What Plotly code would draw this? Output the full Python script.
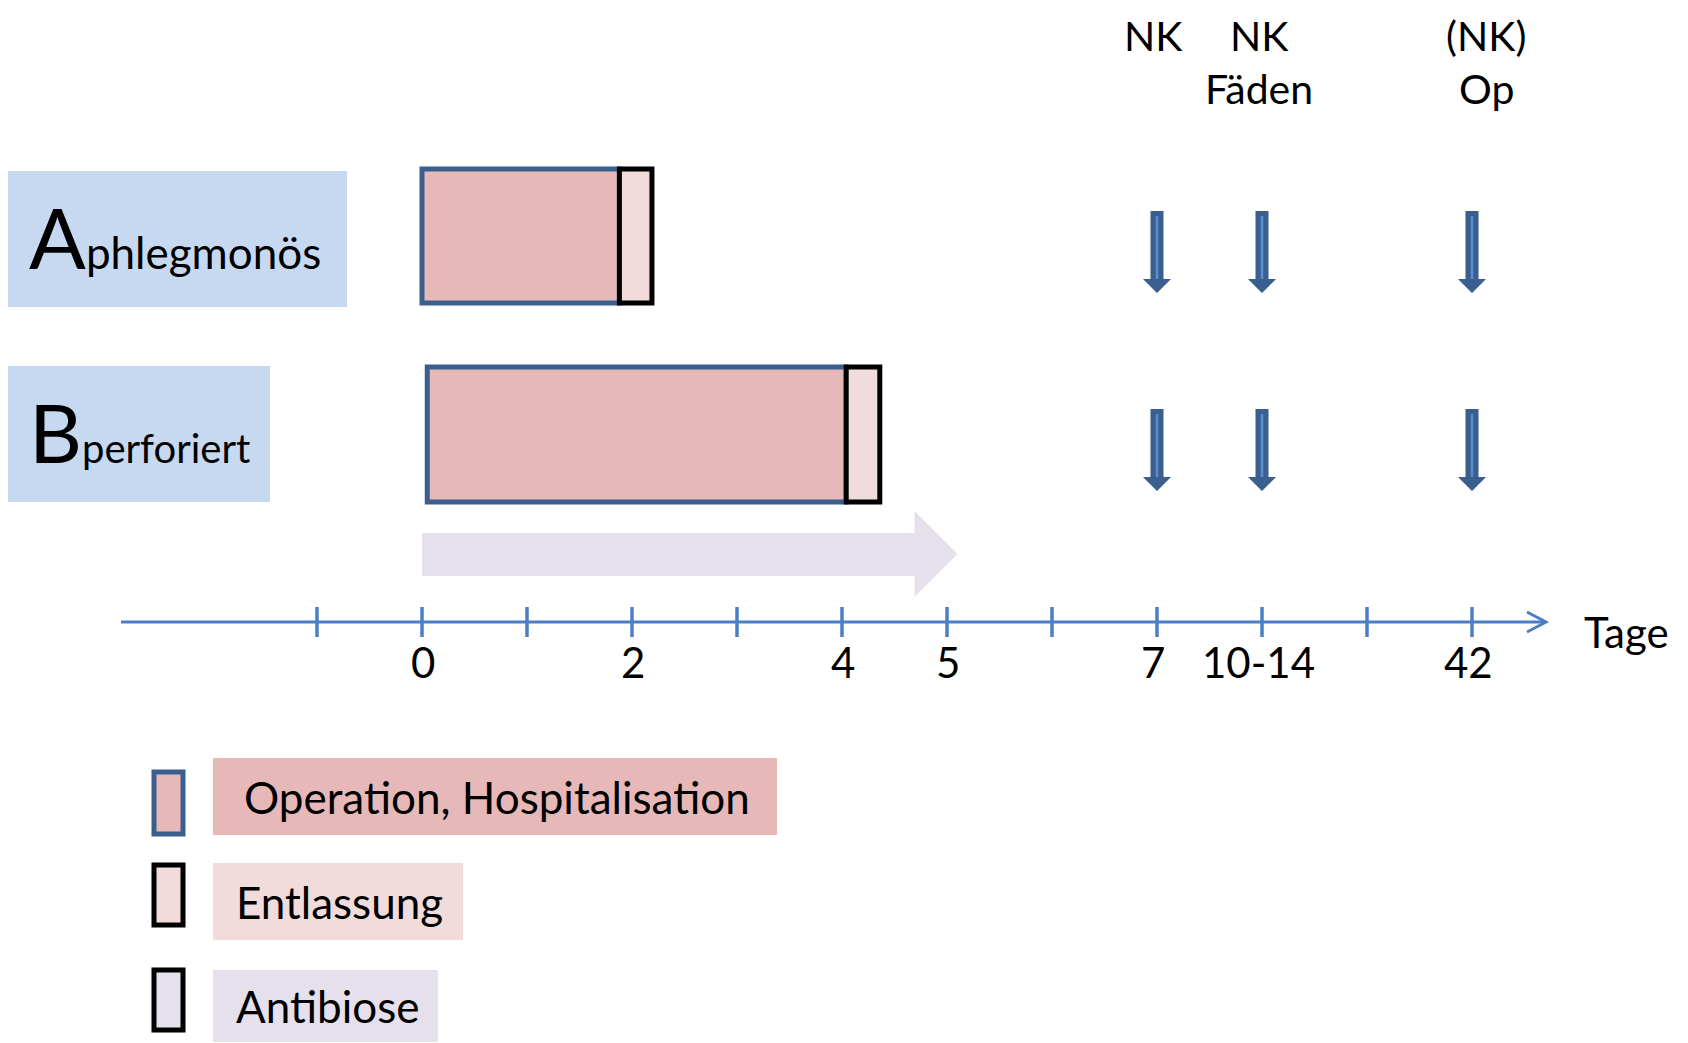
import plotly.graph_objects as go

# ---------------- data ----------------
tick_positions = [-1, 0, 1, 2, 3, 4, 5, 6, 7, 8, 9, 10]
tick_label_pos = [0, 2, 4, 5, 7, 8, 10]
tick_labels = ["0", "2", "4", "5", "7", "10-14", "42"]

groups = ["A", "B"]
group_sub = ["phlegmonös", "perforiert"]
hosp_start = [0.0, 0.05]
hosp_end = [1.88, 4.04]
discharge_end = [2.19, 4.36]

antibiose_start = 0.0
antibiose_end = 5.1

followup_pos = [7, 8, 10]
followup_line1 = ["NK", "NK", "(NK)"]
followup_line2 = ["", "Fäden", "Op"]

legend_labels = ["Operation, Hospitalisation", "Entlassung", "Antibiose"]

# ---------------- style ----------------
OFF = 8                      # page body margin of the browser
W, H = 1680, 1035
FONT = "Lato, 'Open Sans', sans-serif"
C_LABEL = "#c6d9f0"
C_HOSP = "#e6b8b7"
C_DISCH = "#f2dcdb"
C_AB = "#e5e0ec"
C_BORDER = "#3b5f8d"
C_AXIS = "#4a7fc7"
C_ARROW = "#3a5f8f"
C_ARROW_HI = "#5b8dcc"

PX0 = 422.0   # screen pixel of day-index 0
PXU = 105.0   # pixels per unit
xr = [(OFF - PX0) / PXU, (OFF + W - PX0) / PXU]


def px(p):  # screen pixel -> paper fraction (style helper)
    return (p - OFF) / W


def u(p):  # pixel width -> x units (style helper)
    return p / PXU


fig = go.Figure()
shapes = []
ann = []

row_y = [(169, 303), (367, 502)]
label_box = [(8, 347, 171, 307), (8, 270, 366, 502)]
arrow_y = [(211, 293), (409, 491)]
big_size = [84, 82]
sub_size = [44, 40]

for i, g in enumerate(groups):
    x0, x1, y0, y1 = label_box[i]
    shapes.append(dict(type="rect", xref="paper", yref="y", x0=px(x0), x1=px(x1),
                       y0=y0, y1=y1, fillcolor=C_LABEL, line=dict(width=0), layer="below"))
    ann.append(dict(xref="paper", yref="y", x=px(x0 + 19), y=(y0 + y1) / 2 - 3,
                    xanchor="left", yanchor="middle", showarrow=False,
                    text=f"<span style='font-size:{big_size[i]}px'>{g}</span>{group_sub[i]}",
                    font=dict(family=FONT, size=sub_size[i], color="black")))
    ya, yb = row_y[i]
    shapes.append(dict(type="rect", xref="x", yref="y", x0=hosp_start[i], x1=hosp_end[i],
                       y0=ya, y1=yb, fillcolor=C_HOSP, line=dict(color=C_BORDER, width=5)))
    shapes.append(dict(type="rect", xref="x", yref="y", x0=hosp_end[i], x1=discharge_end[i],
                       y0=ya, y1=yb, fillcolor=C_DISCH, line=dict(color="black", width=5)))
    t, b = arrow_y[i]
    for fp in followup_pos:
        sw, hw, hl = u(6.5), u(14), 14
        p = (f"M {fp - sw},{t} L {fp + sw},{t} L {fp + sw},{b - hl} L {fp + hw},{b - hl} "
             f"L {fp},{b} L {fp - hw},{b - hl} L {fp - sw},{b - hl} Z")
        shapes.append(dict(type="path", xref="x", yref="y", path=p,
                           fillcolor=C_ARROW, line=dict(width=0)))
        shapes.append(dict(type="line", xref="x", yref="y", x0=fp, x1=fp, y0=t + 5, y1=b - hl,
                           line=dict(color=C_ARROW_HI, width=2.5)))

# antibiose arrow
hl_ab = u(43)
p = (f"M {antibiose_start},533 L {antibiose_end - hl_ab},533 L {antibiose_end - hl_ab},511 "
     f"L {antibiose_end},554 L {antibiose_end - hl_ab},597 L {antibiose_end - hl_ab},576 "
     f"L {antibiose_start},576 Z")
shapes.append(dict(type="path", xref="x", yref="y", path=p, fillcolor=C_AB,
                   line=dict(width=0), layer="below"))

# time axis
AX_Y = 622
ax_start = tick_positions[0] - u(196)
ax_end = tick_positions[-1] + u(74)
shapes.append(dict(type="line", xref="x", yref="y", x0=ax_start, x1=ax_end, y0=AX_Y, y1=AX_Y,
                   line=dict(color=C_AXIS, width=3)))
shapes.append(dict(type="path", xref="x", yref="y",
                   path=f"M {ax_end - u(19)},{AX_Y - 10} L {ax_end},{AX_Y} L {ax_end - u(19)},{AX_Y + 10}",
                   line=dict(color=C_AXIS, width=3)))
for tp in tick_positions:
    shapes.append(dict(type="line", xref="x", yref="y", x0=tp, x1=tp, y0=607, y1=637,
                       line=dict(color=C_AXIS, width=3.5)))
for tp, tl in zip(tick_label_pos, tick_labels):
    ann.append(dict(xref="x", yref="y", x=tp, y=662, showarrow=False, text=tl,
                    xshift=-4 if tp >= 7 else 1,
                    font=dict(family=FONT, size=42, color="black")))
ann.append(dict(xref="paper", yref="y", x=px(1582), y=632, xanchor="left", showarrow=False,
                text="Tage", font=dict(family=FONT, size=42, color="black")))

# follow-up texts (two lines)
for fp, l1, l2, xs in zip(followup_pos, followup_line1, followup_line2, [-4, -3, 14]):
    ann.append(dict(xref="x", yref="y", x=fp, y=35, showarrow=False, text=l1, xshift=xs,
                    borderpad=0, font=dict(family=FONT, size=41, color="black")))
    if l2:
        ann.append(dict(xref="x", yref="y", x=fp, y=88, showarrow=False, text=l2, xshift=xs,
                        borderpad=0, font=dict(family=FONT, size=41, color="black")))

# legend
leg_sw = [(772, 834), (865, 925), (970, 1030)]
leg_box = [(213, 777, 758, 835), (213, 463, 863, 940), (213, 438, 970, 1042)]
leg_fill = [C_HOSP, C_DISCH, C_AB]
leg_line = [C_BORDER, "black", "black"]
leg_tx = [242, 234, 234]
for i, lab in enumerate(legend_labels):
    y0, y1 = leg_sw[i]
    shapes.append(dict(type="rect", xref="paper", yref="y", x0=px(154), x1=px(183), y0=y0, y1=y1,
                       fillcolor=leg_fill[i], line=dict(color=leg_line[i], width=5)))
    bx0, bx1, by0, by1 = leg_box[i]
    shapes.append(dict(type="rect", xref="paper", yref="y", x0=px(bx0), x1=px(bx1), y0=by0, y1=by1,
                       fillcolor=leg_fill[i], line=dict(width=0), layer="below"))
    ann.append(dict(xref="paper", yref="y", x=px(leg_tx[i]), y=(by0 + by1) / 2, xanchor="left",
                    showarrow=False, text=lab, font=dict(family=FONT, size=44, color="black")))

fig.update_layout(
    width=W, height=H, margin=dict(l=0, r=0, t=0, b=0),
    paper_bgcolor="white", plot_bgcolor="white",
    xaxis=dict(range=xr, visible=False, fixedrange=True),
    yaxis=dict(range=[OFF + H, OFF], visible=False, fixedrange=True),
    shapes=shapes, annotations=ann, showlegend=False,
)
fig.write_html("out.html")
